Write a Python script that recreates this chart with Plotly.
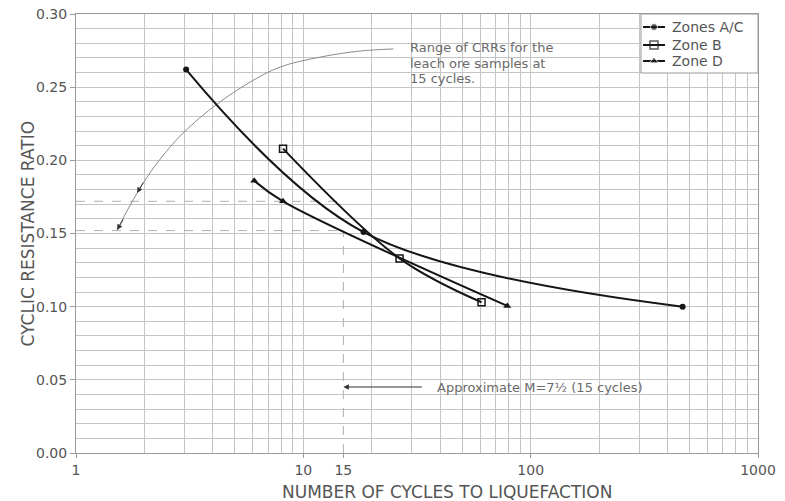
import numpy as np
import plotly.graph_objects as go

# ---- data ----
ac_x = [3.05, 18.4, 466]
ac_y = [0.262, 0.151, 0.100]
b_x = [8.14, 26.5, 60.8]
b_y = [0.208, 0.133, 0.103]
d_x = [6.08, 8.14, 78.9]
d_y = [0.186, 0.172, 0.1005]
series_names = ["Zones A/C", "Zone B", "Zone D"]

crr_range = [0.152, 0.172]     # range of CRRs at 15 cycles
m75_cycles = 15                # approximate M=7.5
# curved leader arrow (data coords)
arc_x = [24.9, 17.8, 11.9, 7.92, 5.84, 4.18, 2.96, 2.275, 1.857, 1.516]
arc_y = [0.2761, 0.2747, 0.2706, 0.2638, 0.2535, 0.2385, 0.2187, 0.1982, 0.1777, 0.1524]

x_tickvals = [1, 10, 15, 100, 1000]
x_ticktext = ["1", "10", "15", "100", "1000"]
y_tickvals = [0.0, 0.05, 0.10, 0.15, 0.20, 0.25, 0.30]
x_grid = [k * 10 ** e for e in range(3) for k in range(2, 11) if k * 10 ** e < 1000]

FONT = "DejaVu Sans"
GRID = "#c4c4c4"
FRAME = "#9a9a9a"
TXT = "#555555"
LINE = "#151515"

fig = go.Figure()

# dashed reference lines
for v in crr_range:
    fig.add_trace(go.Scatter(x=[1, m75_cycles], y=[v, v], mode="lines",
                             line=dict(color="#b0b0b0", width=1, dash="dash"), hoverinfo="skip"))
fig.add_trace(go.Scatter(x=[m75_cycles, m75_cycles], y=[0, min(crr_range)], mode="lines",
                         line=dict(color="#b0b0b0", width=1, dash="dash"), hoverinfo="skip"))

# curved leader
fig.add_trace(go.Scatter(x=arc_x, y=arc_y, mode="lines",
                         line=dict(color="#8a8a8a", width=1, shape="spline"), hoverinfo="skip"))

markers = [
    dict(symbol="circle", size=6, color=LINE),
    dict(symbol="square-open", size=7, color=LINE, line=dict(width=1.5, color=LINE)),
    dict(symbol="triangle-up", size=7, color=LINE),
]
for name, xs, ys, mk in zip(series_names, [ac_x, b_x, d_x], [ac_y, b_y, d_y], markers):
    fig.add_trace(go.Scatter(x=xs, y=ys, mode="lines+markers", name=name,
                             line=dict(color=LINE, width=2, shape="spline", smoothing=1),
                             marker=mk))

# ---- legend box drawn on an overlay (paper-like) axis pair ----
lg_x0, lg_x1, lg_y0, lg_y1 = 0.8284, 1.0, 0.8656, 1.0
lg_rows = [0.9704, 0.9294, 0.8929]
lg_line = (0.8314, 0.8636)
lg_text_x = 0.8710
fig.add_trace(go.Scatter(x=[lg_x0, lg_x1, lg_x1, lg_x0, lg_x0], y=[lg_y0, lg_y0, lg_y1, lg_y1, lg_y0],
                         xaxis="x2", yaxis="y2", mode="lines", fill="toself", fillcolor="white",
                         line=dict(color=FRAME, width=1), hoverinfo="skip"))
for yrow, mk in zip(lg_rows, markers):
    fig.add_trace(go.Scatter(x=[lg_line[0], sum(lg_line) / 2, lg_line[1]], y=[yrow] * 3,
                             xaxis="x2", yaxis="y2", mode="lines+markers",
                             line=dict(color=LINE, width=2),
                             marker=dict(mk, size=[0, mk["size"] + 1, 0]), hoverinfo="skip"))

ann = []
for yrow, name in zip(lg_rows, series_names):
    ann.append(dict(x=lg_text_x, y=yrow, xref="paper", yref="paper", text=name, showarrow=False,
                    xanchor="left", yanchor="middle", font=dict(family=FONT, size=14, color=TXT)))
# arrowheads on the curved leader
for i in (-2, -1):
    ann.append(dict(x=np.log10(arc_x[i]), y=arc_y[i], xref="x", yref="y", text="",
                    showarrow=True, arrowhead=2, arrowsize=1.1, arrowwidth=1, arrowcolor="#333",
                    ax=7, ay=-12))
# leader text
txt_lines = ["Range of CRRs for the", "leach ore samples at", "15 cycles."]
for j, t in enumerate(txt_lines):
    ann.append(dict(x=np.log10(29.0), y=0.2768 - j * 0.0106, xref="x", yref="y", text=t,
                    showarrow=False, xanchor="left", yanchor="middle",
                    font=dict(family=FONT, size=13, color="#6a6a6a")))
# M=7.5 arrow + text
ann.append(dict(x=np.log10(m75_cycles), y=0.0451, xref="x", yref="y", text="",
                showarrow=True, arrowhead=2, arrowsize=1.1, arrowwidth=1, arrowcolor="#333",
                ax=80, ay=0))
ann.append(dict(x=np.log10(37.8), y=0.0451, xref="x", yref="y", text="Approximate M=7½ (15 cycles)",
                showarrow=False, xanchor="left", yanchor="middle",
                font=dict(family=FONT, size=13, color="#6a6a6a")))
# axis titles
ann.append(dict(x=0.544, y=-0.089, xref="paper", yref="paper", text="NUMBER OF CYCLES TO LIQUEFACTION",
                showarrow=False, xanchor="center", yanchor="middle",
                font=dict(family=FONT, size=17, color=TXT)))
ann.append(dict(x=-0.0705, y=0.5, xref="paper", yref="paper", text="CYCLIC RESISTANCE RATIO",
                showarrow=False, xanchor="center", yanchor="middle", textangle=-90,
                font=dict(family=FONT, size=17, color=TXT)))

fig.update_layout(
    width=785, height=501,
    margin=dict(l=76, r=27, t=14, b=48, autoexpand=False),
    paper_bgcolor="white", plot_bgcolor="white",
    font=dict(family=FONT, color=TXT, size=14),
    annotations=ann, showlegend=False, hovermode=False,
    xaxis2=dict(overlaying="x", range=[0, 1], visible=False, fixedrange=True),
    yaxis2=dict(overlaying="y", range=[0, 1], visible=False, fixedrange=True),
)
fig.update_layout(xaxis=dict(
    type="log", range=[0, 3], tickmode="array", tickvals=x_tickvals, ticktext=x_ticktext,
    automargin=False, ticklabeloverflow="allow",
    showgrid=False, zeroline=False, showline=True, mirror=True, linecolor=FRAME,
    ticks="outside", ticklen=4, tickcolor=FRAME,
    tickfont=dict(family=FONT, size=14, color=TXT),
    minor=dict(tickmode="array", tickvals=x_grid, showgrid=True, gridcolor=GRID,
               gridwidth=1, ticks="")))
fig.update_layout(yaxis=dict(
    range=[0, 0.30], tickmode="array", tickvals=y_tickvals, tickformat=".2f",
    automargin=False, ticklabeloverflow="allow",
    showgrid=True, gridcolor=GRID, zeroline=False, showline=True, mirror=True,
    linecolor=FRAME, ticks="outside", ticklen=5, tickcolor=FRAME,
    tickfont=dict(family=FONT, size=14, color=TXT),
    minor=dict(dtick=0.01, showgrid=True, gridcolor=GRID, gridwidth=1, ticks="")))

# remove the default 8px page margin so the 785x501 figure fills the window exactly
fig.write_html("out.html", config={"displayModeBar": False},
               post_script="document.body.style.margin='0px';document.body.style.overflow='hidden';")
